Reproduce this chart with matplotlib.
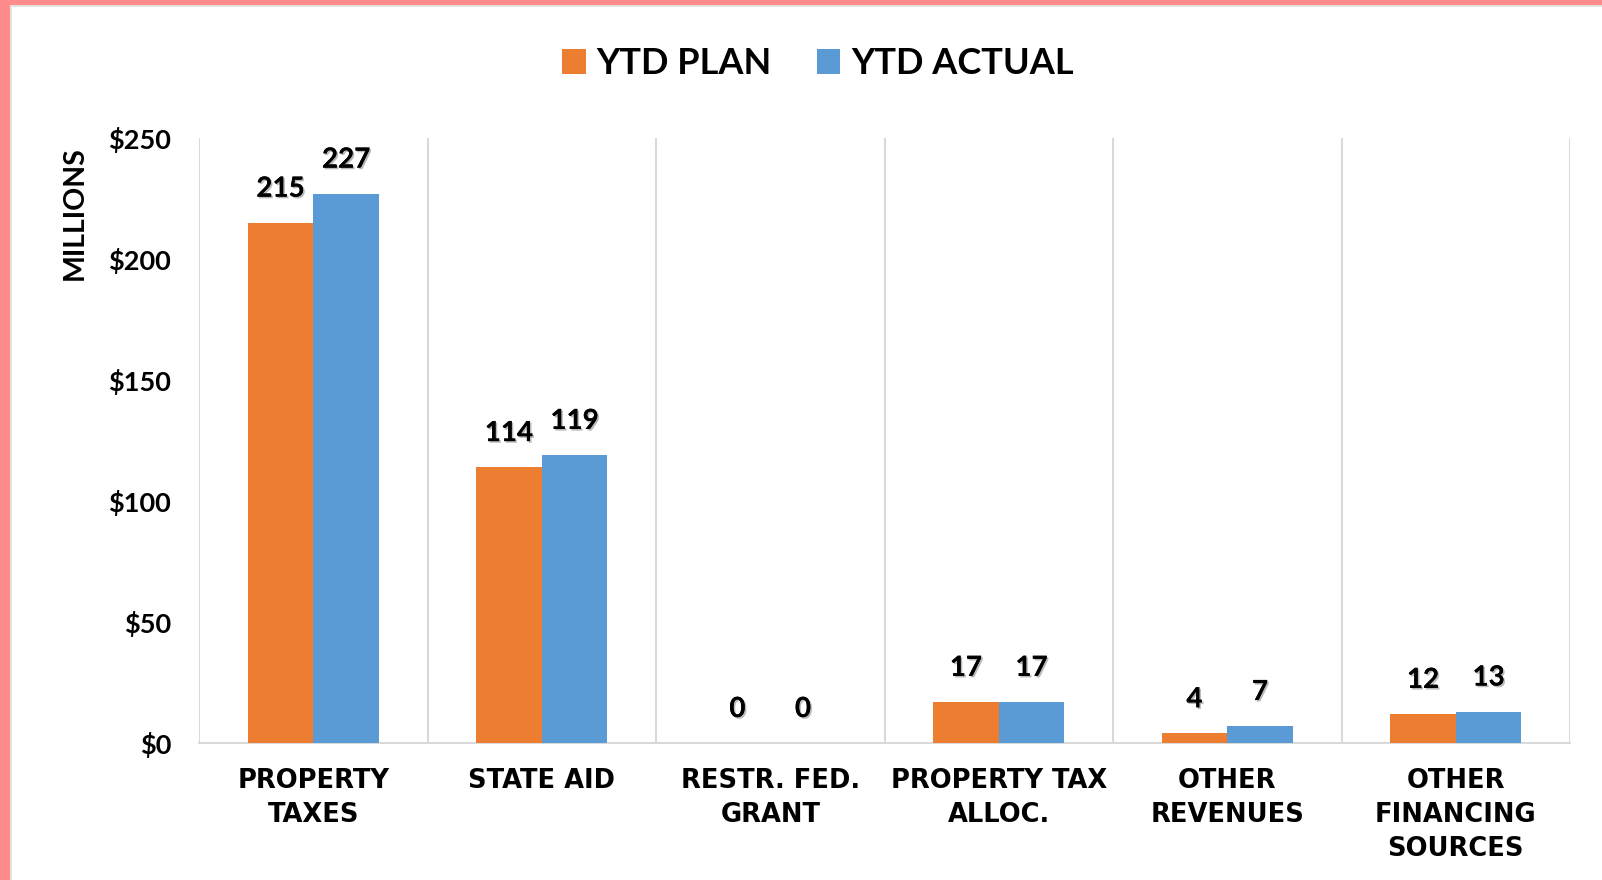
import matplotlib
matplotlib.use("Agg")
import matplotlib.pyplot as plt
import matplotlib.patheffects as pe
from matplotlib.patches import Rectangle, Patch
import numpy as np

categories = ["PROPERTY\nTAXES", "STATE AID", "RESTR. FED.\nGRANT",
              "PROPERTY TAX\nALLOC.", "OTHER\nREVENUES", "OTHER\nFINANCING\nSOURCES"]
ytd_plan = [215, 114, 0, 17, 4, 12]
ytd_actual = [227, 119, 0, 17, 7, 13]
series_names = ["YTD PLAN", "YTD ACTUAL"]
yticks = [0, 50, 100, 150, 200, 250]

ORANGE = "#ED7D31"
BLUE = "#5B9BD5"
GRID = "#D9D9D9"

fig = plt.figure(figsize=(16.02, 8.8), dpi=100)
fig.patch.set_facecolor("white")

# pink frame (left and top) with thin gray inner line
fig.patches.append(Rectangle((0, 0), 10/1602, 1, transform=fig.transFigure,
                             facecolor="#FF8C8C", edgecolor="none", zorder=0))
fig.patches.append(Rectangle((0, 1-5/880), 1, 5/880, transform=fig.transFigure,
                             facecolor="#FF8C8C", edgecolor="none", zorder=0))
fig.patches.append(Rectangle((10/1602, 0), 2/1602, 1-5/880, transform=fig.transFigure,
                             facecolor="#E3E3E3", edgecolor="none", zorder=0))
fig.patches.append(Rectangle((10/1602, 1-7/880), 1, 2/880, transform=fig.transFigure,
                             facecolor="#E3E3E3", edgecolor="none", zorder=0))

ax = fig.add_axes([199/1602, 1-743/880, (1570-199)/1602, (743-138)/880])
x = np.arange(len(categories))
w = 0.287
b1 = ax.bar(x - w/2, ytd_plan, w, color=ORANGE, zorder=3)
b2 = ax.bar(x + w/2, ytd_actual, w, color=BLUE, zorder=3)

ax.set_xlim(-0.5, len(categories) - 0.5)
ax.set_ylim(0, 250)
ax.set_yticks(yticks)
ax.set_yticklabels([f"${v}" for v in yticks], fontsize=19.5, fontweight="bold",
                   family=["Lato", "DejaVu Sans"])
ax.tick_params(axis="y", length=0, pad=20)
ax.set_xticks(x)
ax.set_xticklabels(categories, fontsize=18.5, fontweight="bold",
                   family=["DejaVu Sans"], linespacing=1.4)
ax.tick_params(axis="x", length=0, pad=18)

ax.set_xticks(np.arange(-0.5, len(categories)), minor=True)
ax.tick_params(axis="x", which="minor", length=0)
ax.grid(axis="x", which="minor", color=GRID, linewidth=1.5, zorder=0)
ax.grid(axis="x", which="major", visible=False)
for s in ["top", "right", "left"]:
    ax.spines[s].set_visible(False)
ax.spines["bottom"].set_color(GRID)
ax.spines["bottom"].set_linewidth(1.5)

shadow = [pe.withSimplePatchShadow(offset=(1.2, -1.2), shadow_rgbFace="#666666", alpha=0.45),
          pe.Normal()]
for bars, vals in ((b1, ytd_plan), (b2, ytd_actual)):
    for rect, v in zip(bars, vals):
        ax.annotate(f"{v}", (rect.get_x() + rect.get_width()/2, rect.get_height()),
                    xytext=(0, 24.5), textcoords="offset points", ha="center", va="center",
                    fontsize=20, fontweight="bold", family=["Lato", "DejaVu Sans"],
                    path_effects=shadow, zorder=5)

fig.text(75/1602, 1-213/880, "MILLIONS", rotation=90, ha="center", va="center",
         fontsize=20.5, fontweight="bold", family=["Lato", "DejaVu Sans"])

handles = [Patch(facecolor=ORANGE, edgecolor="none"), Patch(facecolor=BLUE, edgecolor="none")]
fig.legend(handles, series_names, loc="center", bbox_to_anchor=(818/1602, 1-64/880),
           ncol=2, frameon=False, prop={"family": ["Lato", "DejaVu Sans"], "weight": "bold", "size": 26},
           handlelength=0.65, handleheight=0.7, handletextpad=0.3, columnspacing=1.25)

fig.savefig("out.png", dpi=100, facecolor="white")
